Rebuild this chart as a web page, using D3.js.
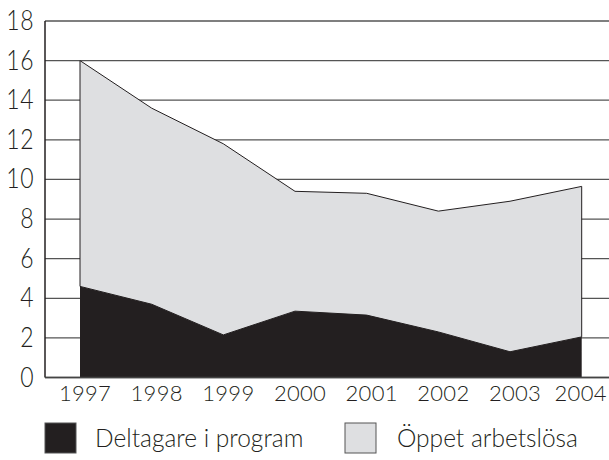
<!DOCTYPE html>
<html>
<head>
<meta charset="utf-8">
<script src="https://cdn.jsdelivr.net/npm/d3@7"></script>
<style>
  body { margin: 0; background: #fff; }
  text { font-family: "Lato", "Open Sans", sans-serif; font-weight: 300; fill: #231f20; }
</style>
</head>
<body>
<svg id="chart" width="609" height="460"></svg>
<script>
// Data
const years = ["1997", "1998", "1999", "2000", "2001", "2002", "2003", "2004"]
const deltagare = [4.6, 3.7, 2.15, 3.35, 3.15, 2.3, 1.3, 2.05]
const oppet = [11.4, 9.9, 9.65, 6.05, 6.15, 6.1, 7.6, 7.6]
const yTicks = [0, 2, 4, 6, 8, 10, 12, 14, 16, 18]
const legendLabels = ["Deltagare i program", "Öppet arbetslösa"]

const DARK = "#231f20"
const LIGHT = "#dedfe1"

const svg = d3.select("#chart")

const x = d3.scalePoint().domain(years).range([80, 581.7])
const y = d3.scaleLinear().domain([0, 18]).range([377.5, 21])

const rows = years.map((yr, i) => ({ year: yr, dp: deltagare[i], op: oppet[i] }))
const series = d3.stack().keys(["dp", "op"])(rows)

// gridlines
svg.append("g")
  .selectAll("line")
  .data(yTicks)
  .join("line")
  .attr("x1", 45).attr("x2", 609)
  .attr("y1", d => y(d)).attr("y2", d => y(d))
  .attr("stroke", "#555")
  .attr("stroke-width", 1.3)

const area = d3.area()
  .x(d => x(d.data.year))
  .y0(d => y(d[0]))
  .y1(d => y(d[1]))

svg.append("path")
  .datum(series[1])
  .attr("d", area)
  .attr("fill", LIGHT)
  .attr("stroke", DARK)
  .attr("stroke-width", 1)
  .attr("stroke-linejoin", "round")

svg.append("path")
  .datum(series[0])
  .attr("d", area)
  .attr("fill", DARK)

// axes lines
svg.append("line")
  .attr("x1", 45).attr("x2", 45)
  .attr("y1", y(18)).attr("y2", y(0))
  .attr("stroke", DARK).attr("stroke-width", 1.5)
svg.append("line")
  .attr("x1", 45).attr("x2", 609)
  .attr("y1", y(0)).attr("y2", y(0))
  .attr("stroke", "#444").attr("stroke-width", 1.5)

// y labels
svg.append("g")
  .selectAll("text")
  .data(yTicks)
  .join("text")
  .attr("transform", d => `translate(34,${y(d) + 9}) scale(1,1.2)`)
  .attr("text-anchor", "end")
  .attr("font-size", 23)
  .attr("letter-spacing", 0.5)
  .text(d => d)

// x labels, last one pulled in so it stays on the page
svg.append("g")
  .selectAll("text")
  .data(years)
  .join("text")
  .attr("x", (d, i) => x(d) + (i === years.length - 1 ? -1 : 5))
  .attr("y", 401)
  .attr("text-anchor", "middle")
  .attr("font-size", 22)
  .attr("letter-spacing", 0.3)
  .text(d => d)

// legend
const legend = [
  { label: legendLabels[0], fill: DARK, x: 45, tx: 95 },
  { label: legendLabels[1], fill: LIGHT, x: 345, tx: 397 }
]
const lg = svg.append("g")
  .selectAll("g")
  .data(legend)
  .join("g")
lg.append("rect")
  .attr("x", d => d.x).attr("y", 423)
  .attr("width", 31).attr("height", 30)
  .attr("fill", d => d.fill)
  .attr("stroke", "#555").attr("stroke-width", 1)
lg.append("text")
  .attr("x", d => d.tx).attr("y", 447)
  .attr("font-size", 24.5)
  .text(d => d.label)
</script>
</body>
</html>
